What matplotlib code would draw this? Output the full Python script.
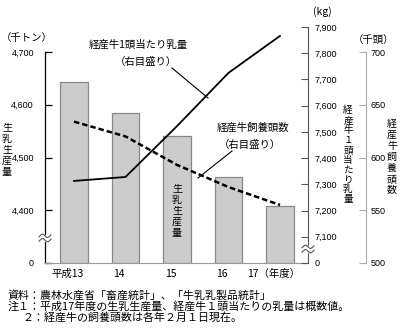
import numpy as np
import matplotlib
matplotlib.use("Agg")
import matplotlib.pyplot as plt
from matplotlib.patches import Rectangle

plt.rcParams['font.family'] = ['Noto Sans CJK JP', 'DejaVu Sans']
NARROW = ['Liberation Sans Narrow', 'Liberation Sans', 'DejaVu Sans']

# data
years = ["平成13", "14", "15", "16", "17（年度）"]
milk_kt = [4643, 4584, 4541, 4463, 4408]          # 生乳生産量 (千トン), left
milk_per_cow = [7313, 7328, 7522, 7725, 7866]     # 経産牛1頭当たり乳量 (kg), right 1
cows_k = [634, 620, 593, 572, 555]                # 経産牛飼養頭数 (千頭), right 2

left_ticks = [4300, 4400, 4500, 4600, 4700]
left_labels = ["0", "4,400", "4,500", "4,600", "4,700"]
kg_ticks = [7000, 7100, 7200, 7300, 7400, 7500, 7600, 7700, 7800, 7900]
kg_labels = ["0", "7,100", "7,200", "7,300", "7,400", "7,500", "7,600", "7,700", "7,800", "7,900"]
head_ticks = [500, 550, 600, 650, 700]

W, H = 400, 328
fig = plt.figure(figsize=(W / 100, H / 100), dpi=100)

def px(x0, y0, x1, y1):
    return [x0 / W, 1 - y1 / H, (x1 - x0) / W, (y1 - y0) / H]

ax = fig.add_axes(px(45, 27, 308, 263))
x = np.arange(len(years))
ax.bar(x, np.array(milk_kt) - 4300, bottom=4300, width=0.54,
       color="#cccccc", edgecolor="#888888", linewidth=0.9)
ax.set_xlim(-0.563, 4.544)
ax.set_ylim(4300, 4747.4)
for s in ["top", "right"]:
    ax.spines[s].set_visible(False)
ax.spines["bottom"].set_color("#999999")
ax.spines["bottom"].set_linestyle((0, (1, 1)))
ax.spines["left"].set_bounds(4300, 4700)
ax.spines["left"].set_linewidth(0.9)
ax.set_yticks(left_ticks)
ax.set_yticklabels(left_labels, family=NARROW)
ax.tick_params(axis="y", direction="in", length=5, pad=8, labelsize=6.5, width=0.9)
ax.set_xticks(x - 0.12)
ax.set_xticklabels(years, fontsize=7.5)
ax.tick_params(axis="x", length=0, pad=4)

ax2 = ax.twinx()
ax2.plot(x, milk_per_cow, color="black", lw=1.3)
ax2.set_ylim(7000, 7900)
for s in ["top", "left", "bottom"]:
    ax2.spines[s].set_visible(False)
ax2.spines["right"].set_bounds(7000, 7900)
ax2.spines["right"].set_color("#555555")
ax2.set_yticks(kg_ticks)
ax2.set_yticklabels(kg_labels, family=NARROW)
ax2.tick_params(axis="y", direction="in", length=5, pad=5, labelsize=6.5, color="#555555")

ax3 = ax.twinx()
ax3.plot(x, cows_k, color="black", lw=1.8, ls=(0, (2.2, 1.2)))
ax3.set_ylim(500, 723.7)
for s in ["top", "left", "bottom"]:
    ax3.spines[s].set_visible(False)
ax3.spines["right"].set_position(("axes", 321 / 263))
ax3.spines["right"].set_bounds(500, 700)
ax3.spines["right"].set_color("#aaaaaa")
ax3.set_yticks(head_ticks)
ax3.set_yticklabels([str(t) for t in head_ticks], family=NARROW)
ax3.tick_params(axis="y", direction="in", length=5, pad=3, labelsize=6.5, color="#aaaaaa")

# overlay in pixel coords for notes, leaders and axis breaks
ov = fig.add_axes([0, 0, 1, 1], zorder=10)
ov.set_xlim(0, W)
ov.set_ylim(H, 0)
ov.axis("off")
ov.patch.set_alpha(0)

def brk(cx, cy):
    ov.add_patch(Rectangle((cx - 2, cy - 3), 4, 6, color="white", zorder=1))
    t = np.linspace(-6, 6, 40)
    for d in (-2.2, 2.2):
        ov.plot(cx + t, cy + d + 1.6 * np.sin(t * np.pi / 5), color="#555555", lw=0.8, zorder=2)

brk(45, 238)
brk(308, 249)

def vtext(x0, y0, s, size=7.2, **kw):
    ov.text(x0, y0, "\n".join(s), ha="center", va="center", fontsize=size,
            linespacing=1.12, **kw)

vtext(7, 150, "生乳生産量")
vtext(177, 211, "生乳生産量")
vtext(348, 155, "経産牛１頭当たり乳量", size=6.9)
vtext(392, 157, "経産牛飼養頭数")

ov.text(27, 38, "（千トン）", ha="center", va="center", fontsize=7.5)
ov.text(322, 12, "(kg)", ha="center", va="center", fontsize=7.5)
ov.text(374, 40, "（千頭）", ha="center", va="center", fontsize=7.5)

ov.text(138, 45, "経産牛1頭当たり乳量", ha="center", va="center", fontsize=7.5)
ov.text(146, 62, "（右目盛り）", ha="center", va="center", fontsize=7.5)
ov.plot([172, 208], [68, 98], color="black", lw=0.8)

ov.text(253, 128, "経産牛飼養頭数", ha="center", va="center", fontsize=7.5)
ov.text(250, 145, "（右目盛り）", ha="center", va="center", fontsize=7.5)
ov.plot([232, 198], [151, 178], color="black", lw=0.8)

notes = [
    (8, "資料：農林水産省「畜産統計」、「牛乳乳製品統計」"),
    (8, "注１：平成17年度の生乳生産量、経産牛１頭当たりの乳量は概数値。"),
    (22, "２：経産牛の飼養頭数は各年２月１日現在。"),
]
for i, (nx, s) in enumerate(notes):
    ov.text(nx, 295 + i * 11, s, ha="left", va="center", fontsize=7.9)

fig.savefig("out.png", dpi=100)
